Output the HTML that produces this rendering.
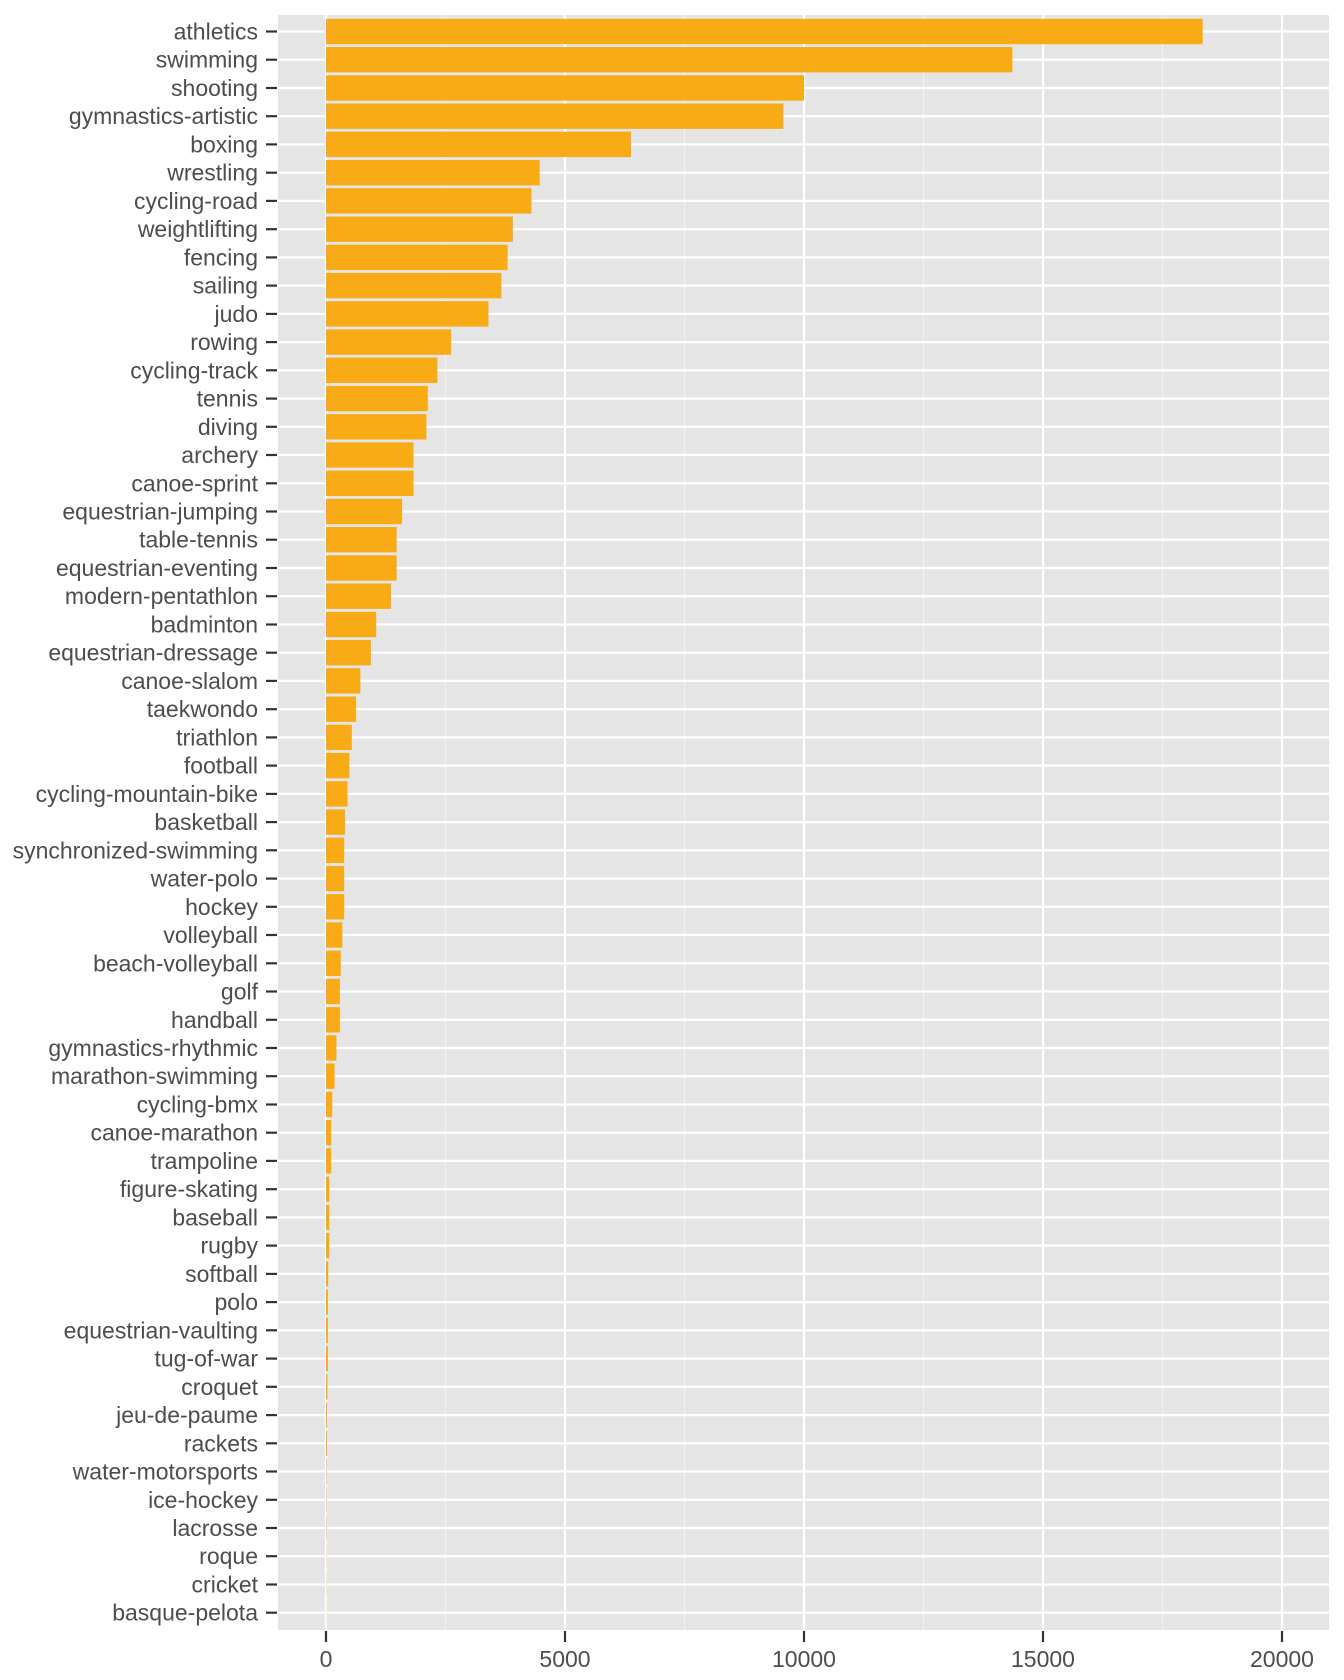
<!DOCTYPE html>
<html><head><meta charset="utf-8"><style>
html,body{margin:0;padding:0;background:#fff;}
svg{display:block;}
text{font-family:"Liberation Sans",Arial,sans-serif;font-size:23px;fill:#4d4d4d;}
</style></head><body>
<svg width="1344" height="1680" viewBox="0 0 1344 1680" xmlns="http://www.w3.org/2000/svg">
<rect x="278" y="15" width="1051" height="1615" fill="#e5e5e5"/>
<g stroke="#f2f2f2" stroke-width="1.1">
<line x1="445.5" y1="15" x2="445.5" y2="1630"/><line x1="684.5" y1="15" x2="684.5" y2="1630"/><line x1="923.5" y1="15" x2="923.5" y2="1630"/><line x1="1162.5" y1="15" x2="1162.5" y2="1630"/>
</g>
<g stroke="#ffffff" stroke-width="2.2">
<line x1="326" y1="15" x2="326" y2="1630"/><line x1="565" y1="15" x2="565" y2="1630"/><line x1="804" y1="15" x2="804" y2="1630"/><line x1="1043" y1="15" x2="1043" y2="1630"/><line x1="1282" y1="15" x2="1282" y2="1630"/>
</g>
<g id="rows" text-anchor="end">
<g transform="translate(0,31.5)"><line x1="278" x2="1329" stroke="#fff" stroke-width="2.2"/><rect x="326" y="-12.7" width="876.7" height="25.4" fill="#f9ab16"/><line x1="266" x2="277" stroke="#333" stroke-width="2.2"/><text x="258" y="8">athletics</text></g>
<g transform="translate(0,59.7)"><line x1="278" x2="1329" stroke="#fff" stroke-width="2.2"/><rect x="326" y="-12.7" width="686.4" height="25.4" fill="#f9ab16"/><line x1="266" x2="277" stroke="#333" stroke-width="2.2"/><text x="258" y="8">swimming</text></g>
<g transform="translate(0,88.0)"><line x1="278" x2="1329" stroke="#fff" stroke-width="2.2"/><rect x="326" y="-12.7" width="478" height="25.4" fill="#f9ab16"/><line x1="266" x2="277" stroke="#333" stroke-width="2.2"/><text x="258" y="8">shooting</text></g>
<g transform="translate(0,116.2)"><line x1="278" x2="1329" stroke="#fff" stroke-width="2.2"/><rect x="326" y="-12.7" width="457.4" height="25.4" fill="#f9ab16"/><line x1="266" x2="277" stroke="#333" stroke-width="2.2"/><text x="258" y="8">gymnastics-artistic</text></g>
<g transform="translate(0,144.4)"><line x1="278" x2="1329" stroke="#fff" stroke-width="2.2"/><rect x="326" y="-12.7" width="305" height="25.4" fill="#f9ab16"/><line x1="266" x2="277" stroke="#333" stroke-width="2.2"/><text x="258" y="8">boxing</text></g>
<g transform="translate(0,172.7)"><line x1="278" x2="1329" stroke="#fff" stroke-width="2.2"/><rect x="326" y="-12.7" width="213.7" height="25.4" fill="#f9ab16"/><line x1="266" x2="277" stroke="#333" stroke-width="2.2"/><text x="258" y="8">wrestling</text></g>
<g transform="translate(0,200.9)"><line x1="278" x2="1329" stroke="#fff" stroke-width="2.2"/><rect x="326" y="-12.7" width="205.5" height="25.4" fill="#f9ab16"/><line x1="266" x2="277" stroke="#333" stroke-width="2.2"/><text x="258" y="8">cycling-road</text></g>
<g transform="translate(0,229.2)"><line x1="278" x2="1329" stroke="#fff" stroke-width="2.2"/><rect x="326" y="-12.7" width="186.9" height="25.4" fill="#f9ab16"/><line x1="266" x2="277" stroke="#333" stroke-width="2.2"/><text x="258" y="8">weightlifting</text></g>
<g transform="translate(0,257.4)"><line x1="278" x2="1329" stroke="#fff" stroke-width="2.2"/><rect x="326" y="-12.7" width="181.6" height="25.4" fill="#f9ab16"/><line x1="266" x2="277" stroke="#333" stroke-width="2.2"/><text x="258" y="8">fencing</text></g>
<g transform="translate(0,285.6)"><line x1="278" x2="1329" stroke="#fff" stroke-width="2.2"/><rect x="326" y="-12.7" width="175.4" height="25.4" fill="#f9ab16"/><line x1="266" x2="277" stroke="#333" stroke-width="2.2"/><text x="258" y="8">sailing</text></g>
<g transform="translate(0,313.9)"><line x1="278" x2="1329" stroke="#fff" stroke-width="2.2"/><rect x="326" y="-12.7" width="162.5" height="25.4" fill="#f9ab16"/><line x1="266" x2="277" stroke="#333" stroke-width="2.2"/><text x="258" y="8">judo</text></g>
<g transform="translate(0,342.1)"><line x1="278" x2="1329" stroke="#fff" stroke-width="2.2"/><rect x="326" y="-12.7" width="125.2" height="25.4" fill="#f9ab16"/><line x1="266" x2="277" stroke="#333" stroke-width="2.2"/><text x="258" y="8">rowing</text></g>
<g transform="translate(0,370.3)"><line x1="278" x2="1329" stroke="#fff" stroke-width="2.2"/><rect x="326" y="-12.7" width="111.4" height="25.4" fill="#f9ab16"/><line x1="266" x2="277" stroke="#333" stroke-width="2.2"/><text x="258" y="8">cycling-track</text></g>
<g transform="translate(0,398.6)"><line x1="278" x2="1329" stroke="#fff" stroke-width="2.2"/><rect x="326" y="-12.7" width="101.8" height="25.4" fill="#f9ab16"/><line x1="266" x2="277" stroke="#333" stroke-width="2.2"/><text x="258" y="8">tennis</text></g>
<g transform="translate(0,426.8)"><line x1="278" x2="1329" stroke="#fff" stroke-width="2.2"/><rect x="326" y="-12.7" width="100.4" height="25.4" fill="#f9ab16"/><line x1="266" x2="277" stroke="#333" stroke-width="2.2"/><text x="258" y="8">diving</text></g>
<g transform="translate(0,455.0)"><line x1="278" x2="1329" stroke="#fff" stroke-width="2.2"/><rect x="326" y="-12.7" width="87.5" height="25.4" fill="#f9ab16"/><line x1="266" x2="277" stroke="#333" stroke-width="2.2"/><text x="258" y="8">archery</text></g>
<g transform="translate(0,483.3)"><line x1="278" x2="1329" stroke="#fff" stroke-width="2.2"/><rect x="326" y="-12.7" width="87.5" height="25.4" fill="#f9ab16"/><line x1="266" x2="277" stroke="#333" stroke-width="2.2"/><text x="258" y="8">canoe-sprint</text></g>
<g transform="translate(0,511.5)"><line x1="278" x2="1329" stroke="#fff" stroke-width="2.2"/><rect x="326" y="-12.7" width="76" height="25.4" fill="#f9ab16"/><line x1="266" x2="277" stroke="#333" stroke-width="2.2"/><text x="258" y="8">equestrian-jumping</text></g>
<g transform="translate(0,539.7)"><line x1="278" x2="1329" stroke="#fff" stroke-width="2.2"/><rect x="326" y="-12.7" width="70.7" height="25.4" fill="#f9ab16"/><line x1="266" x2="277" stroke="#333" stroke-width="2.2"/><text x="258" y="8">table-tennis</text></g>
<g transform="translate(0,568.0)"><line x1="278" x2="1329" stroke="#fff" stroke-width="2.2"/><rect x="326" y="-12.7" width="70.7" height="25.4" fill="#f9ab16"/><line x1="266" x2="277" stroke="#333" stroke-width="2.2"/><text x="258" y="8">equestrian-eventing</text></g>
<g transform="translate(0,596.2)"><line x1="278" x2="1329" stroke="#fff" stroke-width="2.2"/><rect x="326" y="-12.7" width="65" height="25.4" fill="#f9ab16"/><line x1="266" x2="277" stroke="#333" stroke-width="2.2"/><text x="258" y="8">modern-pentathlon</text></g>
<g transform="translate(0,624.5)"><line x1="278" x2="1329" stroke="#fff" stroke-width="2.2"/><rect x="326" y="-12.7" width="50.2" height="25.4" fill="#f9ab16"/><line x1="266" x2="277" stroke="#333" stroke-width="2.2"/><text x="258" y="8">badminton</text></g>
<g transform="translate(0,652.7)"><line x1="278" x2="1329" stroke="#fff" stroke-width="2.2"/><rect x="326" y="-12.7" width="44.9" height="25.4" fill="#f9ab16"/><line x1="266" x2="277" stroke="#333" stroke-width="2.2"/><text x="258" y="8">equestrian-dressage</text></g>
<g transform="translate(0,680.9)"><line x1="278" x2="1329" stroke="#fff" stroke-width="2.2"/><rect x="326" y="-12.7" width="34.4" height="25.4" fill="#f9ab16"/><line x1="266" x2="277" stroke="#333" stroke-width="2.2"/><text x="258" y="8">canoe-slalom</text></g>
<g transform="translate(0,709.2)"><line x1="278" x2="1329" stroke="#fff" stroke-width="2.2"/><rect x="326" y="-12.7" width="30.1" height="25.4" fill="#f9ab16"/><line x1="266" x2="277" stroke="#333" stroke-width="2.2"/><text x="258" y="8">taekwondo</text></g>
<g transform="translate(0,737.4)"><line x1="278" x2="1329" stroke="#fff" stroke-width="2.2"/><rect x="326" y="-12.7" width="25.8" height="25.4" fill="#f9ab16"/><line x1="266" x2="277" stroke="#333" stroke-width="2.2"/><text x="258" y="8">triathlon</text></g>
<g transform="translate(0,765.6)"><line x1="278" x2="1329" stroke="#fff" stroke-width="2.2"/><rect x="326" y="-12.7" width="23.4" height="25.4" fill="#f9ab16"/><line x1="266" x2="277" stroke="#333" stroke-width="2.2"/><text x="258" y="8">football</text></g>
<g transform="translate(0,793.9)"><line x1="278" x2="1329" stroke="#fff" stroke-width="2.2"/><rect x="326" y="-12.7" width="21.5" height="25.4" fill="#f9ab16"/><line x1="266" x2="277" stroke="#333" stroke-width="2.2"/><text x="258" y="8">cycling-mountain-bike</text></g>
<g transform="translate(0,822.1)"><line x1="278" x2="1329" stroke="#fff" stroke-width="2.2"/><rect x="326" y="-12.7" width="19.1" height="25.4" fill="#f9ab16"/><line x1="266" x2="277" stroke="#333" stroke-width="2.2"/><text x="258" y="8">basketball</text></g>
<g transform="translate(0,850.3)"><line x1="278" x2="1329" stroke="#fff" stroke-width="2.2"/><rect x="326" y="-12.7" width="18.2" height="25.4" fill="#f9ab16"/><line x1="266" x2="277" stroke="#333" stroke-width="2.2"/><text x="258" y="8">synchronized-swimming</text></g>
<g transform="translate(0,878.6)"><line x1="278" x2="1329" stroke="#fff" stroke-width="2.2"/><rect x="326" y="-12.7" width="18.2" height="25.4" fill="#f9ab16"/><line x1="266" x2="277" stroke="#333" stroke-width="2.2"/><text x="258" y="8">water-polo</text></g>
<g transform="translate(0,906.8)"><line x1="278" x2="1329" stroke="#fff" stroke-width="2.2"/><rect x="326" y="-12.7" width="18.2" height="25.4" fill="#f9ab16"/><line x1="266" x2="277" stroke="#333" stroke-width="2.2"/><text x="258" y="8">hockey</text></g>
<g transform="translate(0,935.0)"><line x1="278" x2="1329" stroke="#fff" stroke-width="2.2"/><rect x="326" y="-12.7" width="16.3" height="25.4" fill="#f9ab16"/><line x1="266" x2="277" stroke="#333" stroke-width="2.2"/><text x="258" y="8">volleyball</text></g>
<g transform="translate(0,963.3)"><line x1="278" x2="1329" stroke="#fff" stroke-width="2.2"/><rect x="326" y="-12.7" width="14.8" height="25.4" fill="#f9ab16"/><line x1="266" x2="277" stroke="#333" stroke-width="2.2"/><text x="258" y="8">beach-volleyball</text></g>
<g transform="translate(0,991.5)"><line x1="278" x2="1329" stroke="#fff" stroke-width="2.2"/><rect x="326" y="-12.7" width="13.9" height="25.4" fill="#f9ab16"/><line x1="266" x2="277" stroke="#333" stroke-width="2.2"/><text x="258" y="8">golf</text></g>
<g transform="translate(0,1019.8)"><line x1="278" x2="1329" stroke="#fff" stroke-width="2.2"/><rect x="326" y="-12.7" width="13.9" height="25.4" fill="#f9ab16"/><line x1="266" x2="277" stroke="#333" stroke-width="2.2"/><text x="258" y="8">handball</text></g>
<g transform="translate(0,1048.0)"><line x1="278" x2="1329" stroke="#fff" stroke-width="2.2"/><rect x="326" y="-12.7" width="10.5" height="25.4" fill="#f9ab16"/><line x1="266" x2="277" stroke="#333" stroke-width="2.2"/><text x="258" y="8">gymnastics-rhythmic</text></g>
<g transform="translate(0,1076.2)"><line x1="278" x2="1329" stroke="#fff" stroke-width="2.2"/><rect x="326" y="-12.7" width="8.6" height="25.4" fill="#f9ab16"/><line x1="266" x2="277" stroke="#333" stroke-width="2.2"/><text x="258" y="8">marathon-swimming</text></g>
<g transform="translate(0,1104.5)"><line x1="278" x2="1329" stroke="#fff" stroke-width="2.2"/><rect x="326" y="-12.7" width="6.2" height="25.4" fill="#f9ab16"/><line x1="266" x2="277" stroke="#333" stroke-width="2.2"/><text x="258" y="8">cycling-bmx</text></g>
<g transform="translate(0,1132.7)"><line x1="278" x2="1329" stroke="#fff" stroke-width="2.2"/><rect x="326" y="-12.7" width="5.3" height="25.4" fill="#f9ab16"/><line x1="266" x2="277" stroke="#333" stroke-width="2.2"/><text x="258" y="8">canoe-marathon</text></g>
<g transform="translate(0,1160.9)"><line x1="278" x2="1329" stroke="#fff" stroke-width="2.2"/><rect x="326" y="-12.7" width="5.3" height="25.4" fill="#f9ab16"/><line x1="266" x2="277" stroke="#333" stroke-width="2.2"/><text x="258" y="8">trampoline</text></g>
<g transform="translate(0,1189.2)"><line x1="278" x2="1329" stroke="#fff" stroke-width="2.2"/><rect x="326" y="-12.7" width="3.3" height="25.4" fill="#f9ab16"/><line x1="266" x2="277" stroke="#333" stroke-width="2.2"/><text x="258" y="8">figure-skating</text></g>
<g transform="translate(0,1217.4)"><line x1="278" x2="1329" stroke="#fff" stroke-width="2.2"/><rect x="326" y="-12.7" width="3.3" height="25.4" fill="#f9ab16"/><line x1="266" x2="277" stroke="#333" stroke-width="2.2"/><text x="258" y="8">baseball</text></g>
<g transform="translate(0,1245.6)"><line x1="278" x2="1329" stroke="#fff" stroke-width="2.2"/><rect x="326" y="-12.7" width="3.3" height="25.4" fill="#f9ab16"/><line x1="266" x2="277" stroke="#333" stroke-width="2.2"/><text x="258" y="8">rugby</text></g>
<g transform="translate(0,1273.9)"><line x1="278" x2="1329" stroke="#fff" stroke-width="2.2"/><rect x="326" y="-12.7" width="2.2" height="25.4" fill="#f9ab16"/><line x1="266" x2="277" stroke="#333" stroke-width="2.2"/><text x="258" y="8">softball</text></g>
<g transform="translate(0,1302.1)"><line x1="278" x2="1329" stroke="#fff" stroke-width="2.2"/><rect x="326" y="-12.7" width="1.9" height="25.4" fill="#f9ab16"/><line x1="266" x2="277" stroke="#333" stroke-width="2.2"/><text x="258" y="8">polo</text></g>
<g transform="translate(0,1330.3)"><line x1="278" x2="1329" stroke="#fff" stroke-width="2.2"/><rect x="326" y="-12.7" width="1.9" height="25.4" fill="#f9ab16"/><line x1="266" x2="277" stroke="#333" stroke-width="2.2"/><text x="258" y="8">equestrian-vaulting</text></g>
<g transform="translate(0,1358.6)"><line x1="278" x2="1329" stroke="#fff" stroke-width="2.2"/><rect x="326" y="-12.7" width="1.9" height="25.4" fill="#f9ab16"/><line x1="266" x2="277" stroke="#333" stroke-width="2.2"/><text x="258" y="8">tug-of-war</text></g>
<g transform="translate(0,1386.8)"><line x1="278" x2="1329" stroke="#fff" stroke-width="2.2"/><rect x="326" y="-12.7" width="1.4" height="25.4" fill="#f9ab16"/><line x1="266" x2="277" stroke="#333" stroke-width="2.2"/><text x="258" y="8">croquet</text></g>
<g transform="translate(0,1415.1)"><line x1="278" x2="1329" stroke="#fff" stroke-width="2.2"/><rect x="326" y="-12.7" width="1" height="25.4" fill="#f9ab16"/><line x1="266" x2="277" stroke="#333" stroke-width="2.2"/><text x="258" y="8">jeu-de-paume</text></g>
<g transform="translate(0,1443.3)"><line x1="278" x2="1329" stroke="#fff" stroke-width="2.2"/><rect x="326" y="-12.7" width="1" height="25.4" fill="#f9ab16"/><line x1="266" x2="277" stroke="#333" stroke-width="2.2"/><text x="258" y="8">rackets</text></g>
<g transform="translate(0,1471.5)"><line x1="278" x2="1329" stroke="#fff" stroke-width="2.2"/><rect x="326" y="-12.7" width="0.6" height="25.4" fill="#f9ab16"/><line x1="266" x2="277" stroke="#333" stroke-width="2.2"/><text x="258" y="8">water-motorsports</text></g>
<g transform="translate(0,1499.8)"><line x1="278" x2="1329" stroke="#fff" stroke-width="2.2"/><rect x="326" y="-12.7" width="0.5" height="25.4" fill="#f9ab16"/><line x1="266" x2="277" stroke="#333" stroke-width="2.2"/><text x="258" y="8">ice-hockey</text></g>
<g transform="translate(0,1528.0)"><line x1="278" x2="1329" stroke="#fff" stroke-width="2.2"/><rect x="326" y="-12.7" width="0.5" height="25.4" fill="#f9ab16"/><line x1="266" x2="277" stroke="#333" stroke-width="2.2"/><text x="258" y="8">lacrosse</text></g>
<g transform="translate(0,1556.2)"><line x1="278" x2="1329" stroke="#fff" stroke-width="2.2"/><rect x="326" y="-12.7" width="0.3" height="25.4" fill="#f9ab16"/><line x1="266" x2="277" stroke="#333" stroke-width="2.2"/><text x="258" y="8">roque</text></g>
<g transform="translate(0,1584.5)"><line x1="278" x2="1329" stroke="#fff" stroke-width="2.2"/><rect x="326" y="-12.7" width="0.3" height="25.4" fill="#f9ab16"/><line x1="266" x2="277" stroke="#333" stroke-width="2.2"/><text x="258" y="8">cricket</text></g>
<g transform="translate(0,1612.7)"><line x1="278" x2="1329" stroke="#fff" stroke-width="2.2"/><rect x="326" y="-12.7" width="0.2" height="25.4" fill="#f9ab16"/><line x1="266" x2="277" stroke="#333" stroke-width="2.2"/><text x="258" y="8">basque-pelota</text></g>
</g>
<g stroke="#333" stroke-width="2.2">
<line x1="326" y1="1631" x2="326" y2="1642"/><line x1="565" y1="1631" x2="565" y2="1642"/><line x1="804" y1="1631" x2="804" y2="1642"/><line x1="1043" y1="1631" x2="1043" y2="1642"/><line x1="1282" y1="1631" x2="1282" y2="1642"/>
</g>
<g text-anchor="middle">
<text x="326" y="1667">0</text><text x="565" y="1667">5000</text><text x="804" y="1667">10000</text><text x="1043" y="1667">15000</text><text x="1282" y="1667">20000</text>
</g>
</svg>
</body></html>
